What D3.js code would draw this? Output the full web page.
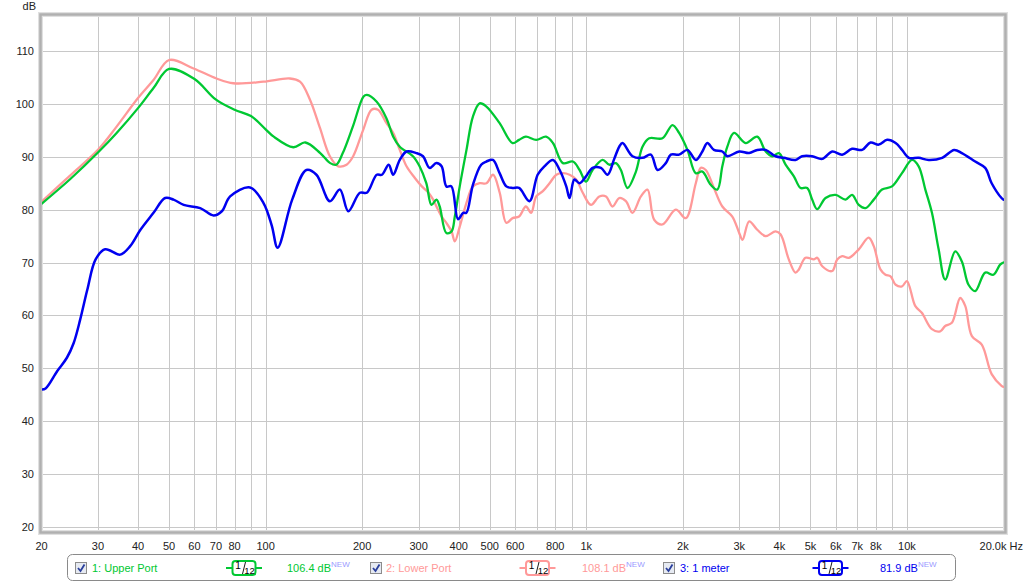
<!DOCTYPE html>
<html><head><meta charset="utf-8">
<script src="https://cdn.jsdelivr.net/npm/d3@7"></script>
<style>
body{margin:0;background:#fff;}
svg{display:block;font-family:"Liberation Sans",Arial,sans-serif;}
</style>
</head><body>
<svg id="c" width="1024" height="582"></svg>
<script>
// ---------------- DATA ----------------
const upperFreq=[20,24.6,30,34.3,40,44.7,50,60,70,80,90,100,106,122,133,148,159,166,174,187,202,207,222,238,250,262,288,302,317,329,341,349,366,380,389,403,423,443,465,488,536,589,617,648,698,749,787,845,908,953,998,1046,1124,1179,1237,1282,1344,1428,1497,1571,1728,1856,1947,2067,2195,2301,2444,2563,2656,2753,2888,3141,3413,3625,3801,3987,4183,4440,4658,4884,5062,5246,5572,5987,6431,6743,7074,7422,7878,8361,8982,9649,10366,10875,11410,11964,12552,13160,14140,14831,15559,16326,17538,18612,19524,20000];
const upperDb=[81.1,85.8,90.8,94.5,99.2,103.0,106.6,104.7,100.8,98.9,97.7,95.2,93.8,91.8,92.7,90.7,88.8,88.5,90.7,95.7,101.4,101.7,100.4,97.3,93.8,91.9,90.1,88.2,85.0,80.9,81.9,80.6,75.6,75.9,78.7,84.4,91.3,97.6,100.1,99.5,96.4,92.6,93.2,93.8,93.2,93.8,92.6,88.8,89.1,87.5,85.3,87.5,89.4,88.5,88.8,87.5,84.1,87.2,91.9,93.5,93.5,96.0,94.5,91.3,86.9,87.2,84.7,83.8,88.2,91.9,94.5,92.6,93.8,91.0,90.1,90.7,88.5,86.3,84.1,84.1,81.9,80.1,82.2,82.8,81.9,82.8,80.9,80.3,81.9,83.8,84.4,86.9,89.4,88.2,83.8,79.4,72.5,66.8,72.1,70.2,65.8,64.6,68.1,67.7,69.6,70.0];

const lowerFreq=[20,24.6,30,34.3,40,44.7,50,59.6,70.3,79.3,98.4,119,128,137.5,147.6,158.6,168.4,178.8,187.5,201.5,214,224,238,250,262,275,292,307,322,333,341,354,366,380,389,403,423,443,465,488,512,537,563,589,617,648,673,698,732,768,806,845,887,930,975,1034,1098,1152,1207,1267,1329,1393,1480,1552,1628,1728,1902,2043,2195,2275,2358,2500,2656,2853,2998,3071,3220,3413,3625,3894,4038,4280,4491,4601,4825,5128,5253,5443,5846,6059,6280,6592,7074,7594,7878,8264,8570,8887,9219,9649,9997,10610,11124,11964,12693,13160,13801,14658,15195,15939,17111,18370,19720,20000];
const lowerDb=[81.5,86.5,91.3,95.7,101.1,104.5,108.3,106.7,104.8,103.9,104.2,104.8,104.2,100.8,95.5,90.1,88.2,88.5,90.1,95.1,98.9,98.9,96.4,94.5,91.3,88.2,86.0,84.4,83.2,81.9,80.6,78.7,77.5,75.9,74.0,76.8,81.3,84.4,85.0,85.0,86.6,83.2,77.5,78.4,78.7,80.6,79.4,82.5,83.5,85.0,86.6,86.9,86.6,85.7,83.2,80.9,82.5,82.5,80.6,82.2,81.6,79.4,82.5,83.8,78.1,77.2,80.0,78.4,85.0,87.9,87.5,84.1,80.6,78.7,75.6,74.3,77.8,76.2,75.0,75.9,75.3,70.6,68.1,68.7,70.9,70.6,70.9,69.3,68.4,70.6,71.2,70.9,72.5,74.7,73.1,68.7,67.7,67.4,65.8,65.5,66.5,61.8,60.5,57.4,57.0,58.0,58.6,63.3,61.8,56.1,54.5,48.9,46.7,46.5];

const meterFreq=[20,20.6,22.4,24.0,25.2,26.4,27.8,29.5,31.6,35.2,37.8,40.7,44.7,48.6,51.6,55.5,62.5,68.8,73.0,77.5,89.4,98.4,104.5,109,121,134,144,158.6,170.4,181,196.7,206.8,222,230.5,242,249.8,262,275,295,309.5,324.5,340.7,353.8,366.2,379.6,398,413,422.6,443,470,487.8,511.5,536.6,563,588.6,617,665,705,740,787,826,866,887,918,953,998,1046,1111,1165,1222,1267,1297,1393,1497,1590,1668,1770,1835,1947,2067,2195,2301,2385,2500,2656,2753,2998,3220,3413,3625,3894,4131,4491,4711,5062,5443,5846,6280,6743,7245,7694,8170,8673,9219,9649,10140,10875,11686,12876,14030,14831,16326,17538,18370,19720,20000];
const meterDb=[46.0,46.2,49.5,52.0,54.8,59.2,64.9,70.6,72.5,71.5,73.1,76.2,79.4,82.2,81.9,80.9,80.3,78.9,79.7,82.5,84.2,81.3,77.0,72.8,81.9,87.5,86.6,81.6,83.8,79.7,83.2,83.2,86.6,86.6,88.5,86.6,89.4,91.0,90.7,90.1,87.9,88.8,88.2,84.4,84.4,78.2,79.4,79.4,84.7,88.5,89.1,89.4,86.9,84.4,84.1,84.1,81.6,86.6,88.2,89.4,87.5,84.4,82.2,85.7,85.0,86.3,87.9,87.9,86.6,89.6,91.9,92.6,90.1,89.8,90.4,87.5,88.8,90.4,90.4,91.3,89.4,91.0,92.6,91.3,91.0,90.1,91.0,90.7,91.3,91.3,90.1,89.8,89.4,90.1,90.1,89.6,91.0,90.4,91.5,91.3,92.7,92.3,93.2,92.6,91.3,89.8,89.8,89.4,89.8,91.3,90.7,89.1,87.9,85.0,82.2,81.9];

const seriesNames=["1: Upper Port","2: Lower Port","3: 1 meter"];
const seriesColors=["#00c832","#ff9999","#0000f0"];
const legendValues=["106.4 dB","108.1 dB","81.9 dB"];
const yTicks=[20,30,40,50,60,70,80,90,100,110];
const xGrid=[30,40,50,60,70,80,90,100,200,300,400,500,600,700,800,900,1000,2000,3000,4000,5000,6000,7000,8000,9000,10000];
const xTickVals=[20,30,40,50,60,70,80,100,200,300,400,500,600,800,1000,2000,3000,4000,5000,6000,7000,8000,10000];
const xTickLabels=["20","30","40","50","60","70","80","100","200","300","400","500","600","800","1k","2k","3k","4k","5k","6k","7k","8k","10k"];
const xEndLabel="20.0k Hz";
const yUnit="dB";

// ---------------- CHART ----------------
const svg=d3.select("#c");
const x=d3.scaleLog().domain([20,20000]).range([41.5,1003.5]);
const y=d3.scaleLinear().domain([20,110]).range([527,51]);
const plot={x0:42,y0:16,x1:1004,y1:531};

svg.append("defs").append("clipPath").attr("id","clip")
  .append("rect").attr("x",plot.x0).attr("y",plot.y0)
  .attr("width",plot.x1-plot.x0).attr("height",plot.y1-plot.y0);

// grid
const g=svg.append("g");
g.selectAll(".hg").data(yTicks).enter().append("line")
  .attr("x1",plot.x0).attr("x2",plot.x1)
  .attr("y1",d=>Math.round(y(d))+0.5).attr("y2",d=>Math.round(y(d))+0.5)
  .attr("stroke","#c8c8c8").attr("stroke-width",1);
g.selectAll(".vg").data(xGrid).enter().append("line")
  .attr("y1",plot.y0).attr("y2",plot.y1)
  .attr("x1",d=>Math.round(x(d))+0.5).attr("x2",d=>Math.round(x(d))+0.5)
  .attr("stroke","#c8c8c8").attr("stroke-width",1);

// frame
svg.append("rect").attr("x",40.5).attr("y",14.5).attr("width",965).attr("height",518)
  .attr("fill","none").attr("stroke","#e0e0e0").attr("stroke-width",5);
svg.append("rect").attr("x",40.5).attr("y",14.5).attr("width",965).attr("height",518)
  .attr("fill","none").attr("stroke","#b0b0b0").attr("stroke-width",2.5);

// y labels
svg.selectAll(".yl").data(yTicks).enter().append("text")
  .attr("x",34).attr("y",d=>y(d)+4).attr("text-anchor","end")
  .attr("font-size",11).attr("fill","#222").text(d=>d);
svg.append("text").attr("x",36).attr("y",10).attr("text-anchor","end")
  .attr("font-size",11).attr("fill","#222").text(yUnit);

// x labels
svg.selectAll(".xl").data(xTickVals).enter().append("text")
  .attr("x",d=>x(d)).attr("y",550).attr("text-anchor","middle")
  .attr("font-size",11).attr("fill","#222").text((d,i)=>xTickLabels[i]);
svg.append("text").attr("x",1023).attr("y",550).attr("text-anchor","end")
  .attr("font-size",11).attr("fill","#222").text(xEndLabel);

// curves
const series=[
  {f:lowerFreq,v:lowerDb,c:seriesColors[1],w:2.3},
  {f:upperFreq,v:upperDb,c:seriesColors[0],w:2.3},
  {f:meterFreq,v:meterDb,c:seriesColors[2],w:2.5}
];
const line=d3.line().x(d=>x(d[0])).y(d=>y(d[1])).curve(d3.curveCatmullRom.alpha(0.5));
const lg=svg.append("g").attr("clip-path","url(#clip)");
series.forEach(s=>{
  lg.append("path").datum(s.f.map((f,i)=>[f,s.v[i]]))
    .attr("d",line).attr("fill","none").attr("stroke",s.c)
    .attr("stroke-width",s.w).attr("stroke-linejoin","round").attr("stroke-linecap","round");
});

// legend
svg.append("rect").attr("x",67.5).attr("y",554.5).attr("width",888).attr("height",26).attr("rx",5)
  .attr("fill","#fff").attr("stroke","#8a8a8a");
const cbX=[75,370,663], nameX=[92,386,680], iconC=[244,537.5,830.5], valX=[287,582,880];
seriesNames.forEach((n,i)=>{
  const c=seriesColors[i];
  svg.append("rect").attr("x",cbX[i]+0.5).attr("y",562.5).attr("width",11).attr("height",11)
    .attr("fill","#e6eaf2").attr("stroke","#8c8c8c");
  svg.append("path").attr("d",`M${cbX[i]+3},${568} L${cbX[i]+5.5},${571} L${cbX[i]+9.5},${564.5}`)
    .attr("fill","none").attr("stroke","#2a3f9c").attr("stroke-width",1.8);
  svg.append("text").attr("x",nameX[i]).attr("y",572).attr("font-size",11).attr("fill",c).text(n);
  const ic=iconC[i];
  svg.append("line").attr("x1",ic-18).attr("x2",ic+18).attr("y1",568).attr("y2",568)
    .attr("stroke",c).attr("stroke-width",2);
  svg.append("rect").attr("x",ic-11.5).attr("y",561).attr("width",23).attr("height",14).attr("rx",3)
    .attr("fill","#fff").attr("stroke",c).attr("stroke-width",2);
  svg.append("text").attr("x",ic-6).attr("y",569).attr("font-size",10).attr("fill","#000").attr("text-anchor","middle").text("1");
  svg.append("line").attr("x1",ic-1.5).attr("y1",574).attr("x2",ic+1.5).attr("y2",562).attr("stroke","#000").attr("stroke-width",0.9);
  svg.append("text").attr("x",ic+5.5).attr("y",574).attr("font-size",9.5).attr("fill","#000").attr("text-anchor","middle").text("12");
  const t=svg.append("text").attr("x",valX[i]).attr("y",572).attr("font-size",11).attr("fill",c).text(legendValues[i]);
  t.append("tspan").attr("dy",-5).attr("font-size",8).attr("fill","#9a9aff").text("NEW");
});
</script>
</body></html>
